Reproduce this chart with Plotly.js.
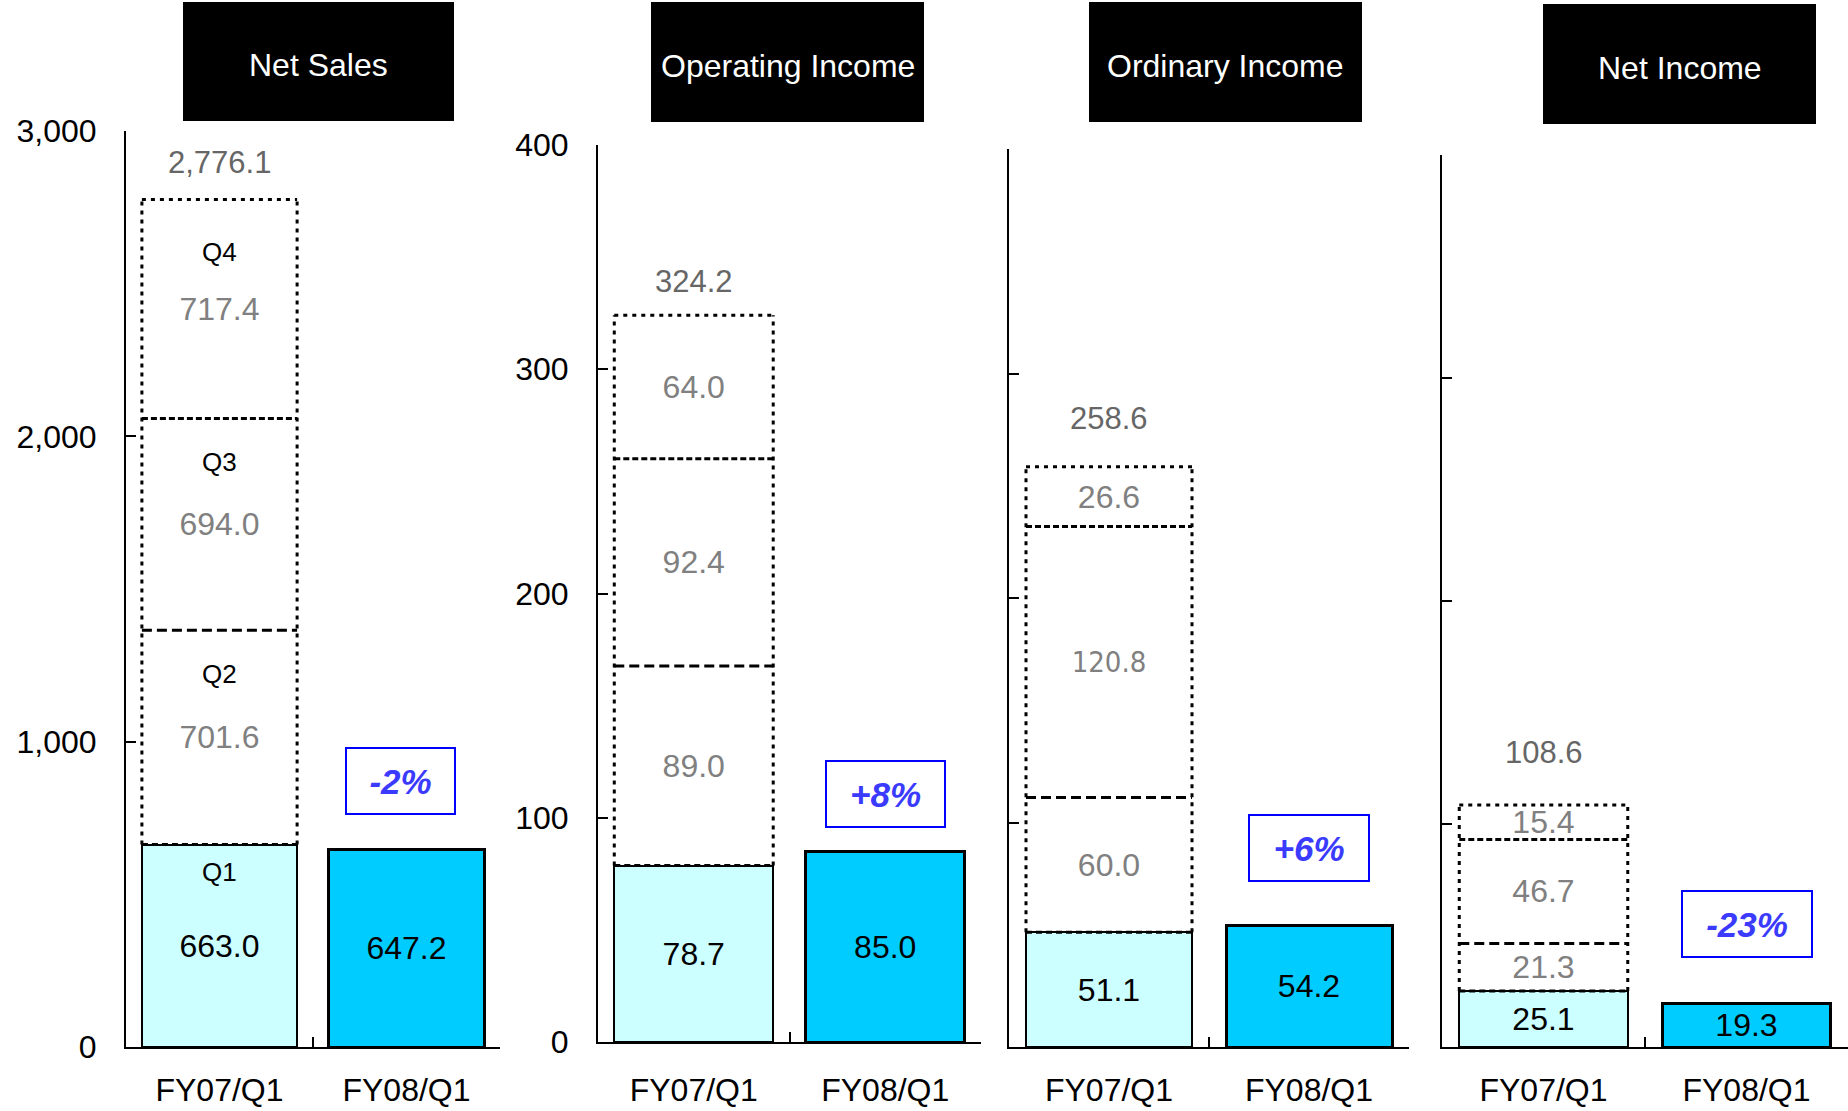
<!DOCTYPE html>
<html>
<head>
<meta charset="utf-8">
<script src="https://cdn.plot.ly/plotly-3.0.1.min.js"></script>
<style>html,body{margin:0;padding:0;background:#fff;}#chart{width:1848px;height:1111px;}</style>
</head>
<body>
<div id="chart"></div>
<script>
// ---- data ----
const panelTitles = ["Net Sales", "Operating Income", "Ordinary Income", "Net Income"];
const categories = ["FY07/Q1", "FY08/Q1"];
const fy07Q1 = [663.0, 78.7, 51.1, 25.1];
const fy07Q2 = [701.6, 89.0, 60.0, 21.3];
const fy07Q3 = [694.0, 92.4, 120.8, 46.7];
const fy07Q4 = [717.4, 64.0, 26.6, 15.4];
const fy07Total = [2776.1, 324.2, 258.6, 108.6];
const fy08Q1 = [647.2, 85.0, 54.2, 19.3];
const quarterLabels = ["Q1", "Q2", "Q3", "Q4"];
const yMax = [3000, 400, 400, 400];
const yStep = [1000, 100, 100, 100];

// ---- layout config ----
const xDomains = [[126/1848, 500/1848], [598/1848, 981/1848], [1009/1848, 1409/1848], [1442/1848, 1]];
const yDomains = [[1-1047/1111, 1-131/1111], [1-1042/1111, 1-145/1111], [1-1047/1111, 1-149/1111], [1-1047/1111, 1-155/1111]];
const titleBoxes = [[183, 454, 2, 121], [651, 924, 2, 122], [1089, 1362, 2, 122], [1543, 1816, 4, 124]];
const xLabelStandoff = [14, 19, 14, 14];
const totalShift = [17, 14, 28, 33];
const pctShift = [34, 23, 43, 46];
const pctWidth = [101, 111, 112, 122];
const showTickLabels = [true, true, false, false];
const BW = 0.83;
const FONT = "Liberation Sans, Arial, sans-serif";

const traces = [];
const shapes = [];
const annotations = [];
const layout = {
  width: 1848, height: 1111,
  margin: {l: 0, r: 0, t: 0, b: 0},
  paper_bgcolor: "#ffffff", plot_bgcolor: "rgba(0,0,0,0)",
  barmode: "stack", bargap: 1 - BW,
  showlegend: false,
  font: {family: FONT, color: "#000"}
};

function fmt1(v) {
  return v.toLocaleString("en-US", {minimumFractionDigits: 1, maximumFractionDigits: 1});
}

for (let p = 0; p < 4; p++) {
  const n = p === 0 ? "" : String(p + 1);
  const xa = "x" + n, ya = "y" + n;
  const xKey = "xaxis" + n, yKey = "yaxis" + n;
  const ticks = [];
  for (let t = 0; t <= yMax[p]; t += yStep[p]) ticks.push(t);

  layout[xKey] = {
    domain: xDomains[p], anchor: ya, type: "category",
    categoryorder: "array", categoryarray: categories,
    range: [-0.5, 1.5], showline: true, linecolor: "#000", linewidth: 2,
    ticks: "inside", tickson: "boundaries", ticklen: 10, tickwidth: 2, tickcolor: "#000",
    showgrid: false, zeroline: false, fixedrange: true,
    tickfont: {family: FONT, size: 32, color: "#000"}, ticklabelstandoff: xLabelStandoff[p]
  };
  layout[yKey] = {
    domain: yDomains[p], anchor: xa, range: [0, yMax[p]],
    tickvals: ticks, tickformat: ",", showticklabels: showTickLabels[p],
    showline: true, linecolor: "#000", linewidth: 2,
    ticks: "inside", ticklen: 10, tickwidth: 2, tickcolor: "#000",
    showgrid: false, zeroline: false, fixedrange: true,
    tickfont: {family: FONT, size: 32, color: "#000"}, ticklabelstandoff: 21
  };

  // Q1 bars (FY07 light, FY08 solid)
  traces.push({
    type: "bar", x: categories, y: [fy07Q1[p], fy08Q1[p]], xaxis: xa, yaxis: ya,
    width: BW,
    marker: {color: ["#CCFFFF", "#00CCFF"], line: {color: "#000", width: [2, 3]}},
    text: [fmt1(fy07Q1[p]), fmt1(fy08Q1[p])], textposition: "inside",
    insidetextanchor: "middle", textangle: 0, constraintext: "none",
    textfont: {family: FONT, size: 32, color: "#000"}, hoverinfo: "skip",
    cliponaxis: false
  });
  // FY07 Q2..Q4 (transparent boxes)
  const rest = [fy07Q2[p], fy07Q3[p], fy07Q4[p]];
  rest.forEach((v, i) => {
    const narrow = (p === 2 && i === 1);
    traces.push({
      type: "bar", x: [categories[0]], y: [v], xaxis: xa, yaxis: ya, width: BW,
      marker: {color: "rgba(0,0,0,0)", line: {width: 0}},
      text: [fmt1(v)], textposition: "inside", insidetextanchor: "middle", textangle: 0,
      constraintext: "none",
      textfont: {family: narrow ? "DejaVu Sans Condensed, Liberation Sans Narrow, sans-serif" : FONT,
                 size: narrow ? 29 : 32, color: "#808080"},
      hoverinfo: "skip", cliponaxis: false
    });
  });

  // dotted outlines
  const c1 = fy07Q1[p], c2 = c1 + fy07Q2[p], c3 = c2 + fy07Q3[p], c4 = c3 + fy07Q4[p];
  const lineBase = {type: "line", xref: xa, yref: ya, layer: "above", x0: -BW/2, x1: BW/2};
  shapes.push(Object.assign({}, lineBase, {x0: -BW/2, x1: -BW/2, y0: c1, y1: c4, line: {color: "#000", width: 3, dash: "4px,5px"}}));
  shapes.push(Object.assign({}, lineBase, {x0: BW/2, x1: BW/2, y0: c1, y1: c4, line: {color: "#000", width: 3, dash: "4px,5px"}}));
  shapes.push(Object.assign({}, lineBase, {y0: c4, y1: c4, line: {color: "#000", width: 3, dash: "4px,5px"}}));
  shapes.push(Object.assign({}, lineBase, {y0: c1, y1: c1, line: {color: "#000", width: 3, dash: "6px,4px"}}));
  shapes.push(Object.assign({}, lineBase, {y0: c2, y1: c2, line: {color: "#000", width: 3, dash: "10px,5px"}}));
  shapes.push(Object.assign({}, lineBase, {y0: c3, y1: c3, line: {color: "#000", width: 3, dash: "6px,3px"}}));

  // total label
  annotations.push({
    xref: xa, yref: ya, x: 0, y: fy07Total[p], text: fmt1(fy07Total[p]),
    showarrow: false, yanchor: "bottom", yshift: totalShift[p],
    font: {family: FONT, size: 31, color: "#666666"}
  });

  // quarter labels (Net Sales only)
  if (p === 0) {
    const tops = [c1, c2, c3, c4];
    const offs = [10, 27, 27, 36];
    quarterLabels.forEach((q, i) => {
      annotations.push({
        xref: xa, yref: ya, x: 0, y: tops[i], text: q, showarrow: false,
        yanchor: "top", yshift: -offs[i],
        font: {family: FONT, size: 26, color: "#000"}
      });
    });
  }

  // change percentage box
  const pct = Math.round((fy08Q1[p] / fy07Q1[p] - 1) * 100);
  annotations.push({
    xref: xa, yref: ya, x: 1, y: fy08Q1[p],
    text: "<b><i>" + (pct > 0 ? "+" : "") + pct + "%</i></b>",
    showarrow: false, yanchor: "bottom", yshift: pctShift[p], xshift: p === 0 ? -6 : 0,
    width: pctWidth[p], height: 58, borderpad: 3,
    bordercolor: "#0000FF", borderwidth: 2, bgcolor: "#fff",
    font: {family: FONT, size: 35, color: "#3B3BFF"}
  });

  // title box
  const tb = titleBoxes[p];
  shapes.push({
    type: "rect", xref: "paper", yref: "paper", layer: "above",
    x0: tb[0] / 1848, x1: tb[1] / 1848, y0: 1 - tb[3] / 1111, y1: 1 - tb[2] / 1111,
    fillcolor: "#000", line: {width: 0}
  });
  annotations.push({
    xref: "paper", yref: "paper",
    x: (tb[0] + tb[1]) / 2 / 1848, y: 1 - ((tb[2] + tb[3]) / 2 + 4) / 1111,
    xanchor: "center", yanchor: "middle",
    text: panelTitles[p], showarrow: false,
    font: {family: FONT, size: 32, color: "#fff"}
  });
}

layout.shapes = shapes;
layout.annotations = annotations;
Plotly.newPlot("chart", traces, layout, {displayModeBar: false, staticPlot: true});
</script>
</body>
</html>
